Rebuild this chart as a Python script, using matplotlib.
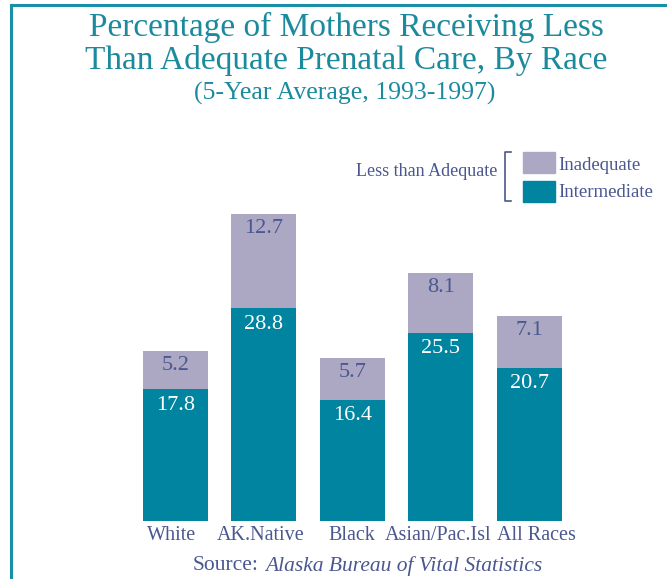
import numpy as np
import matplotlib
matplotlib.use('Agg')
import matplotlib.pyplot as plt
from matplotlib.patches import Rectangle
from matplotlib.lines import Line2D

matplotlib.rcParams['font.family'] = ['Liberation Serif', 'DejaVu Serif']

races = ['White', 'AK.Native', 'Black', 'Asian/Pac.Isl', 'All Races']
intermediate = [17.8, 28.8, 16.4, 25.5, 20.7]
inadequate = [5.2, 12.7, 5.7, 8.1, 7.1]

TEAL = '#00849f'
LAVENDER = '#aca8c3'
INK = '#4a5790'
TITLE = '#1a8a9c'
FRAME = '#1a90a8'

W, H = 667, 579
fig = plt.figure(figsize=(W / 100, H / 100), dpi=100)

# axes placed in pixel terms: bar centres 88.4 px apart, 7.39 px per percent
left_px, right_px, bottom_px, top_px = 100, 610, 58, 449
ax = fig.add_axes([left_px / W, bottom_px / H, (right_px - left_px) / W, (top_px - bottom_px) / H])
x = np.arange(len(races))
ax.set_xlim((left_px - 175.5) / 88.4, (right_px - 175.5) / 88.4)
ax.set_ylim(0, (top_px - bottom_px) / 7.39)
ax.axis('off')

width = 0.735
ax.bar(x, intermediate, width, color=TEAL, edgecolor='none')
ax.bar(x, inadequate, width, bottom=intermediate, color=LAVENDER, edgecolor='none')

# small horizontal nudges (points) so the category names don't collide
name_nudge = [-3, -2, 0, -2, 5]

for i in range(len(races)):
    top_int = intermediate[i]
    top_all = intermediate[i] + inadequate[i]
    ax.annotate(f'{inadequate[i]:.1f}', (x[i], top_all), xytext=(0, -10.5), textcoords='offset points',
                ha='center', va='center', fontsize=16, color=INK)
    ax.annotate(f'{intermediate[i]:.1f}', (x[i], top_int), xytext=(0, -11.5), textcoords='offset points',
                ha='center', va='center', fontsize=16, color='white')
    ax.annotate(races[i], (x[i], 0), xytext=(name_nudge[i], -10.5), textcoords='offset points',
                ha='center', va='center', fontsize=14.5, color=INK, annotation_clip=False)

# titles
fig.text(346 / W, 1 - 27 / H, 'Percentage of Mothers Receiving Less', ha='center', va='center',
         fontsize=24, color=TITLE)
fig.text(346 / W, 1 - 60 / H, 'Than Adequate Prenatal Care, By Race', ha='center', va='center',
         fontsize=24, color=TITLE)
fig.text(345 / W, 1 - 93 / H, '(5-Year Average, 1993-1997)', ha='center', va='center',
         fontsize=18.5, color=TITLE)

# legend with bracket
fig.text(497 / W, 1 - 172 / H, 'Less than Adequate', ha='right', va='center', fontsize=13, color=INK)
bx = [511, 505, 505, 511]
by = [152, 152, 201, 201]
fig.add_artist(Line2D([v / W for v in bx], [1 - v / H for v in by], color=INK, lw=1.2))
fig.add_artist(Rectangle((523 / W, 1 - 173 / H), 32 / W, 21 / H, color=LAVENDER, transform=fig.transFigure))
fig.add_artist(Rectangle((523 / W, 1 - 202 / H), 32 / W, 21 / H, color=TEAL, transform=fig.transFigure))
fig.text(558 / W, 1 - 165 / H, 'Inadequate', ha='left', va='center', fontsize=13.5, color=INK)
fig.text(558 / W, 1 - 193 / H, 'Intermediate', ha='left', va='center', fontsize=13.5, color=INK)

# source line
fig.text(259 / W, 1 - 566 / H, 'Source:', ha='right', va='center', fontsize=15.5, color=INK)
fig.text(265 / W, 1 - 566 / H, 'Alaska Bureau of Vital Statistics', ha='left', va='center',
         fontsize=15.5, color=INK, style='italic')

# frame lines along top and left
fig.add_artist(Line2D([11 / W, 1], [1 - 5 / H, 1 - 5 / H], color=FRAME, lw=2.2))
fig.add_artist(Line2D([11 / W, 11 / W], [0, 1 - 5 / H], color=FRAME, lw=2.2))

fig.savefig('out.png', dpi=100)
